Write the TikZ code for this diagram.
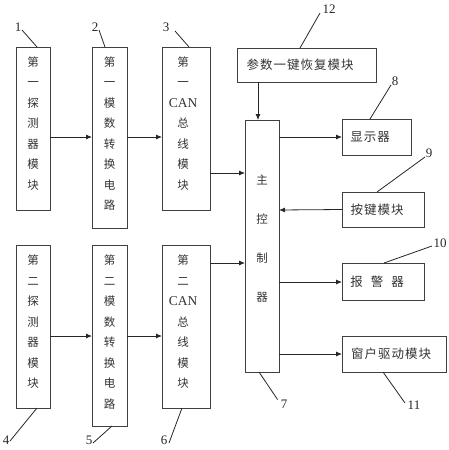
\documentclass[tikz,border=0pt]{standalone}
\usepackage{fontspec}
\setmainfont{Liberation Serif}
\newfontfamily\cjk{Noto Sans CJK SC}
\usetikzlibrary{arrows.meta,calc}
\begin{document}
\begin{tikzpicture}[x=1pt,y=-1pt,
  box/.style={draw=black!75,line width=0.8pt,inner sep=0pt,outer sep=0pt},
  vtxt/.style={align=center,text=black!80,inner sep=0pt,font=\cjk\fontsize{11.5}{20.5}\selectfont},
  htxt/.style={text=black!80,inner sep=0pt,font=\cjk\fontsize{12.5}{14}\selectfont},
  num/.style={text=black!85,inner sep=0pt,font=\fontsize{13}{14}\selectfont},
  arr/.style={draw=black!85,line width=0.8pt,-{Latex[length=6pt,width=5pt]}},
  lead/.style={draw=black!85,line width=0.8pt}]
\useasboundingbox (0,0) rectangle (449,450);
\newcommand{\can}{{\fontspec{Liberation Serif}\fontsize{13.5}{20.5}\selectfont CAN}}
% boxes
\node[box,minimum width=34pt,minimum height=163pt] (b1) at (33,128.5) {};
\node[box,minimum width=35pt,minimum height=181pt] (b2) at (109.5,137.5) {};
\node[box,minimum width=48pt,minimum height=163pt] (b3) at (186,128.5) {};
\node[box,minimum width=34pt,minimum height=163pt] (b4) at (33,326.5) {};
\node[box,minimum width=35pt,minimum height=181pt] (b5) at (109.5,335.5) {};
\node[box,minimum width=48pt,minimum height=163pt] (b6) at (186,326.5) {};
\node[box,minimum width=34pt,minimum height=252pt] (m) at (262,246) {};
\node[box,minimum width=139pt,minimum height=34pt] (p) at (306.5,65) {};
\node[box,minimum width=69pt,minimum height=36pt] (d) at (376.5,137) {};
\node[box,minimum width=82pt,minimum height=35pt] (k) at (383,209.5) {};
\node[box,minimum width=82pt,minimum height=37pt] (a) at (383,281.5) {};
\node[box,minimum width=104pt,minimum height=36pt] (w) at (394,354) {};
% texts
\node[vtxt] (t1) at (33,123.5) {第\\一\\探\\测\\器\\模\\块};
\node[vtxt] (t2) at (109.5,133.75) {第\\一\\模\\数\\转\\换\\电\\路};
\node[vtxt] (t3) at (183,123.5) {第\\一\\\can\\总\\线\\模\\块};
\node[vtxt] (t4) at (33,322) {第\\二\\探\\测\\器\\模\\块};
\node[vtxt] (t5) at (109.5,332.25) {第\\二\\模\\数\\转\\换\\电\\路};
\node[vtxt] (t6) at (183,322) {第\\二\\\can\\总\\线\\模\\块};
\node[vtxt,font=\cjk\fontsize{11.5}{39}\selectfont] (tm) at (262,239) {主\\控\\制\\器};
\node[htxt] (tp) at (300,65) {参\hspace{1pt}数\hspace{1pt}一\hspace{1pt}键\hspace{1pt}恢\hspace{1pt}复\hspace{1pt}模\hspace{1pt}块};
\node[htxt] (td) at (370,137) {显\hspace{1pt}示\hspace{1pt}器};
\node[htxt] (tk) at (377,209.5) {按\hspace{1pt}键\hspace{1pt}模\hspace{1pt}块};
\node[htxt] (ta) at (377,281.5) {报\hspace{8pt}警\hspace{8pt}器};
\node[htxt] (tw) at (391,354) {窗\hspace{1pt}户\hspace{1pt}驱\hspace{1pt}动\hspace{1pt}模\hspace{1pt}块};
% arrows
\draw[arr] ([yshift=-8.5pt]b1.east) -- ([yshift=-8.5pt]b1.east -| b2.west);
\draw[arr] ([yshift=-8.5pt]b1.east -| b2.east) -- ([yshift=-8.5pt]b1.east -| b3.west);
\draw[arr] ([yshift=-9.5pt]b4.east) -- ([yshift=-9.5pt]b4.east -| b5.west);
\draw[arr] ([yshift=-9.5pt]b4.east -| b5.east) -- ([yshift=-9.5pt]b4.east -| b6.west);
\draw[arr] ([yshift=-44.5pt]b3.east) -- ([yshift=-44.5pt]b3.east -| m.west);
\draw[arr] ([yshift=63.5pt]b6.east) -- ([yshift=63.5pt]b6.east -| m.west);
\draw[arr] ([xshift=-48.5pt]p.south) -- ([xshift=-48.5pt]p.south |- m.north);
\draw[arr] (d.west -| m.east) -- (d.west);
\draw[arr] (k.west) -- ([yshift=-0.5pt]k.west -| m.east);
\draw[arr] ([yshift=-0.5pt]a.west -| m.east) -- ([yshift=-0.5pt]a.west);
\draw[arr] (w.west -| m.east) -- (w.west);
% labels
\node[num] (l1) at (18,27) {1};
\node[num] (l2) at (95,27) {2};
\node[num] (l3) at (166,27) {3};
\node[num] (l4) at (6,440) {4};
\node[num] (l5) at (89,440) {5};
\node[num] (l6) at (164,440) {6};
\node[num] (l7) at (284,404) {7};
\node[num] (l8) at (395,81) {8};
\node[num] (l9) at (429,153) {9};
\node[num] (l10) at (440,243) {10};
\node[num] (l11) at (414,405) {11};
\node[num] (l12) at (329,9) {12};
\draw[lead] ([shift={(4,3)}]l1.center) -- ([xshift=4pt]b1.north);
\draw[lead] ([shift={(4,3)}]l2.center) -- ([xshift=-4.5pt]b2.north);
\draw[lead] ([shift={(9,4)}]l3.center) -- ([xshift=3pt]b3.north);
\draw[lead] ([shift={(4,1)}]l4.center) -- ([xshift=4pt]b4.south);
\draw[lead] ([shift={(4,3)}]l5.center) -- ([xshift=2.5pt]b5.south);
\draw[lead] ([shift={(5,3)}]l6.center) -- ([xshift=-4pt]b6.south);
\draw[lead] ([xshift=-3pt]l7.north west) -- ([xshift=-3pt]m.south);
\draw[lead] ([shift={(-4,4)}]l8.center) -- ([xshift=-6.5pt]d.north);
\draw[lead] ([shift={(-4,4)}]l9.center) -- ([xshift=-6pt]k.north);
\draw[lead] ([shift={(-8,3)}]l10.center) -- ([xshift=1pt]a.north);
\draw[lead] ([shift={(-9,-2)}]l11.center) -- ([xshift=-11pt]w.south);
\draw[lead] ([shift={(-9,4)}]l12.center) -- ([xshift=-6.5pt]p.north);
\end{tikzpicture}
\end{document}
